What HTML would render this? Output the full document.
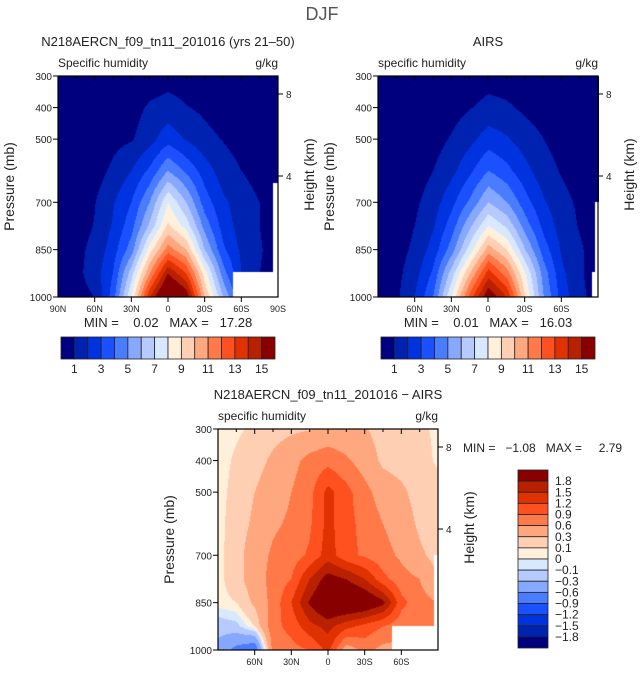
<!DOCTYPE html>
<html><head><meta charset="utf-8">
<style>
body{margin:0;background:#fff;width:642px;height:674px;overflow:hidden;position:relative;font-family:"Liberation Sans",sans-serif;}
canvas{position:absolute;}
svg{position:absolute;left:0;top:0;}
svg text{white-space:pre;}
</style></head>
<body>
<canvas id="c1" width="220" height="221" style="left:58px;top:76px"></canvas>
<canvas id="c2" width="221" height="221" style="left:378px;top:76px"></canvas>
<canvas id="c3" width="220" height="221" style="left:218px;top:429px"></canvas>
<svg id="s" width="642" height="674" xml:space="preserve"></svg>
<script>
const lats=[90,75,60,45,30,15,0,-15,-30,-45,-60,-75,-90];
const pres=[1000,925,850,775,700,600,500,400,300];
const palette=["#00007f","#0022b0","#0033e0","#1a50ff","#4a7cff","#86a8ff","#b6caff","#d8e9ff","#fff0dc","#ffcfb4","#ffa880","#ff7a48","#ff5020","#e03200","#b82000","#880000"];
const levels1=[1,2,3,4,5,6,7,8,9,10,11,12,13,14,15];
const levels3=[-1.8,-1.5,-1.2,-0.9,-0.6,-0.3,-0.1,0,0.1,0.3,0.6,0.9,1.2,1.5,1.8];
const model=[
[0.3,0.6,1.0,3.5,8,14,17.5,16,10,6,3,1.5,0.8],
[0.3,0.7,1.5,3,6.5,11,15,13,8.5,4.5,2,1.0,0.5],
[0.3,0.7,1.3,2.5,4.5,8.5,11.5,10,6,3.2,1.8,1.1,0.5],
[0.25,0.55,1.05,2.1,3.6,6.2,9.2,7.6,4.6,2.6,1.5,1.0,0.45],
[0.2,0.4,0.95,1.9,3,5,8,6,3.5,2.2,1.5,1.0,0.4],
[0.1,0.2,0.55,1.2,2,3.2,5,3.8,2.5,1.5,1.0,0.6,0.2],
[0.05,0.1,0.3,0.7,0.9,1.6,2.6,1.9,1.3,0.95,0.6,0.3,0.1],
[0.02,0.05,0.1,0.3,0.6,1.15,1.4,1.05,0.8,0.5,0.3,0.1,0.05],
[0.02,0.03,0.05,0.1,0.2,0.4,0.6,0.5,0.3,0.2,0.1,0.05,0.02]];
const airs=[
[0.3,0.8,2,4,8,12.5,16,14,9,5,2.5,1.2,0.6],
[0.3,0.7,1.6,3.2,6.5,10,13.5,11.5,8,4.5,2.2,1.1,0.5],
[0.3,0.6,1.2,2.4,4.5,7.5,10.5,9,6,3.5,1.8,1.1,0.5],
[0.2,0.5,1.0,1.9,3.5,5.8,8,6.8,4.5,2.7,1.5,0.9,0.4],
[0.15,0.4,0.8,1.5,2.7,4.2,6,5,3.4,2.1,1.3,0.8,0.3],
[0.1,0.25,0.5,1.0,1.7,2.8,4,3.3,2.3,1.4,0.9,0.5,0.2],
[0.05,0.12,0.3,0.6,1.1,1.7,2.5,2.1,1.5,1.0,0.6,0.3,0.1],
[0.02,0.05,0.1,0.3,0.6,0.95,1.3,1.15,0.8,0.5,0.3,0.1,0.05],
[0.02,0.03,0.05,0.1,0.2,0.4,0.6,0.5,0.3,0.2,0.1,0.05,0.02]];
const diff=[
[-0.4,-0.7,-0.9,0.7,0.8,0.9,1.3,0.4,0.7,0.5,0.5,0.5,0.5],
[-0.2,-0.15,0.1,0.8,1.0,1.4,1.6,1.3,1.1,0.9,0.7,0.65,0.6],
[0.05,0.1,0.35,0.7,1.2,1.85,2.3,2.3,2.2,1.9,1.0,0.7,0.6],
[0.05,0.2,0.45,0.7,0.9,1.5,1.95,1.8,1.5,1.0,0.7,0.6,0.3],
[0.05,0.2,0.45,0.65,0.75,0.95,1.35,1.0,0.85,0.7,0.55,0.35,0.2],
[0.05,0.18,0.35,0.55,0.65,0.85,1.3,1.0,0.8,0.6,0.45,0.25,0.15],
[0.05,0.15,0.3,0.45,0.6,0.8,1.3,1.0,0.7,0.45,0.35,0.2,0.15],
[0.05,0.12,0.2,0.35,0.5,0.7,0.8,0.65,0.45,0.25,0.2,0.15,0.08],
[0.05,0.08,0.12,0.2,0.25,0.28,0.35,0.35,0.32,0.2,0.15,0.12,0.08]];
// missing-data regions [latFrom, latTo, pTop, pBottom]
const missing1=[[-53,-90,920,1000],[-86,-90,640,1000]];
const missing2=[[-84,-90,920,1000],[-87,-90,700,1000]];
const missing3=[[-52,-90,925,1000],[-87,-90,700,1000]];

function valAt(grid,lat,p){
  let fi=(90-lat)/15; let i=Math.min(11,Math.floor(fi)); let tx=fi-i;
  let j=0; while(j<pres.length-2 && p<pres[j+1]) j++;
  let ty=(pres[j]-p)/(pres[j]-pres[j+1]);
  const a=grid[j][i],b=grid[j][i+1],c=grid[j+1][i],d=grid[j+1][i+1];
  return (a*(1-tx)+b*tx)*(1-ty)+(c*(1-tx)+d*tx)*ty;
}
function hex(h){return [parseInt(h.substr(1,2),16),parseInt(h.substr(3,2),16),parseInt(h.substr(5,2),16)];}
const pal=palette.map(hex);
function draw(id,grid,levels,miss){
  const cv=document.getElementById(id),ctx=cv.getContext('2d');
  const W=cv.width,H=cv.height,img=ctx.createImageData(W,H);
  for(let y=0;y<H;y++){const p=300+700*(y+0.5)/H;
    for(let x=0;x<W;x++){const lat=90-180*(x+0.5)/W;
      let v=valAt(grid,lat,p),k=0; while(k<levels.length&&v>=levels[k])k++;
      let c=pal[k];
      for(const m of miss){if(lat<=m[0]&&lat>=m[1]&&p>=m[2]&&p<=m[3])c=[255,255,255];}
      const o=(y*W+x)*4; img.data[o]=c[0];img.data[o+1]=c[1];img.data[o+2]=c[2];img.data[o+3]=255;}}
  ctx.putImageData(img,0,0);
}
draw('c1',model,levels1,missing1);
draw('c2',airs,levels1,missing2);
draw('c3',diff,levels3,missing3);

const S=document.getElementById('s');const NS='http://www.w3.org/2000/svg';
function el(t,a,txt){const e=document.createElementNS(NS,t);for(const k in a)e.setAttribute(k,a[k]);if(txt!==undefined)e.textContent=txt;S.appendChild(e);return e;}
function text(x,y,s,size,anchor,name,rot){const a={x:x,y:y,'font-size':size,fill:'#222','text-anchor':anchor||'start','font-family':'Liberation Sans, sans-serif'};if(rot)a.transform='rotate(-90 '+x+' '+y+')';const e=el('text',a,s);

return e;}
const ptick=[300,400,500,700,850,1000];
const xtick1=['90N','60N','30N','0','30S','60S','90S'];
const xtick2=['','60N','30N','0','30S','60S',''];
function panel(x0,y0,title,sub,xt,minmax,mmPos,pfx){
  const W=220,H=221;
  const r=el('rect',{x:x0,y:y0,width:W,height:H,fill:'none',stroke:'#000','stroke-width':1.2});
  
  
  text(x0+W/2,y0-30,title,13,'middle',pfx+'-title');
  text(x0,y0-9,sub,12,'start',pfx+'-subtitle');
  text(x0+W,y0-9,'g/kg',12,'end',pfx+'-units');
  ptick.forEach(p=>{const y=y0+(p-300)/700*H;el('line',{x1:x0-5,x2:x0,y1:y,y2:y,stroke:'#000'});text(x0-6,y+4,String(p),10,'end',pfx+'-y-tick-label');});
  for(let k=0;k<=12;k++){const x=x0+W*k/12;el('line',{x1:x,x2:x,y1:y0,y2:y0+(k%2?3:5),stroke:'#000'});if(k%2===0&&k>0&&k<12)el('line',{x1:x,x2:x,y1:y0+H,y2:y0+H+5,stroke:'#000'});}
  xt.forEach((t,k)=>{if(t)text(x0+W*k/6,y0+H+15,t,9,'middle',pfx+'-x-tick-label');});
  [[8,18],[4,100]].forEach(h=>{const y=y0+h[1];el('line',{x1:x0+W,x2:x0+W+5,y1:y,y2:y,stroke:'#000'});text(x0+W+8,y+4,String(h[0]),10,'start',pfx+'-height-tick-label');});
  text(x0-44,y0+H/2,'Pressure (mb)',14,'middle',pfx+'-y-axis-title',true);
  text(x0+W+36,y0+H/2-12,'Height (km)',14,'middle',pfx+'-right-axis-title',true);
  if(mmPos==='below')text(x0+W/2,y0+H+30,minmax,13,'middle',pfx+'-min-max');
}
text(322,20,'DJF',18,'middle','figure-title').setAttribute('fill','#555');
panel(58,76,'N218AERCN_f09_tn11_201016 (yrs 21–50)','Specific humidity',xtick1,'MIN =    0.02   MAX =   17.28','below','model');
panel(378,76,'AIRS','specific humidity',xtick2,'MIN =    0.01   MAX =   16.03','below','airs');
panel(218,429,'N218AERCN_f09_tn11_201016 − AIRS','specific humidity',xtick2,'','','diff');
text(463,452,'MIN =   −1.08   MAX =     2.79',12,'start','diff-min-max');
function hbar(x0,y0,pfx){const w=214/16;
  palette.forEach((c,k)=>{const r=el('rect',{x:x0+k*w,y:y0,width:w,height:22,fill:c,stroke:'#222','stroke-width':0.8});
  
  });
  levels1.forEach((l,k)=>{if(k%2===0)text(x0+(k+1)*w,y0+36,String(l),12,'middle',pfx+'-colorbar-label');});}
hbar(61,337,'model');hbar(381,337,'airs');
(function(){const x0=518,y0=470,h=178/16;
  palette.slice().reverse().forEach((c,k)=>{const r=el('rect',{x:x0,y:y0+k*h,width:30,height:h,fill:c,stroke:'#222','stroke-width':0.8});
  
  });
  levels3.slice().reverse().forEach((l,k)=>{text(x0+37,y0+(k+1)*h+4,String(l).replace('-','−'),12,'start','diff-colorbar-label');});
})();
</script>
</body></html>
